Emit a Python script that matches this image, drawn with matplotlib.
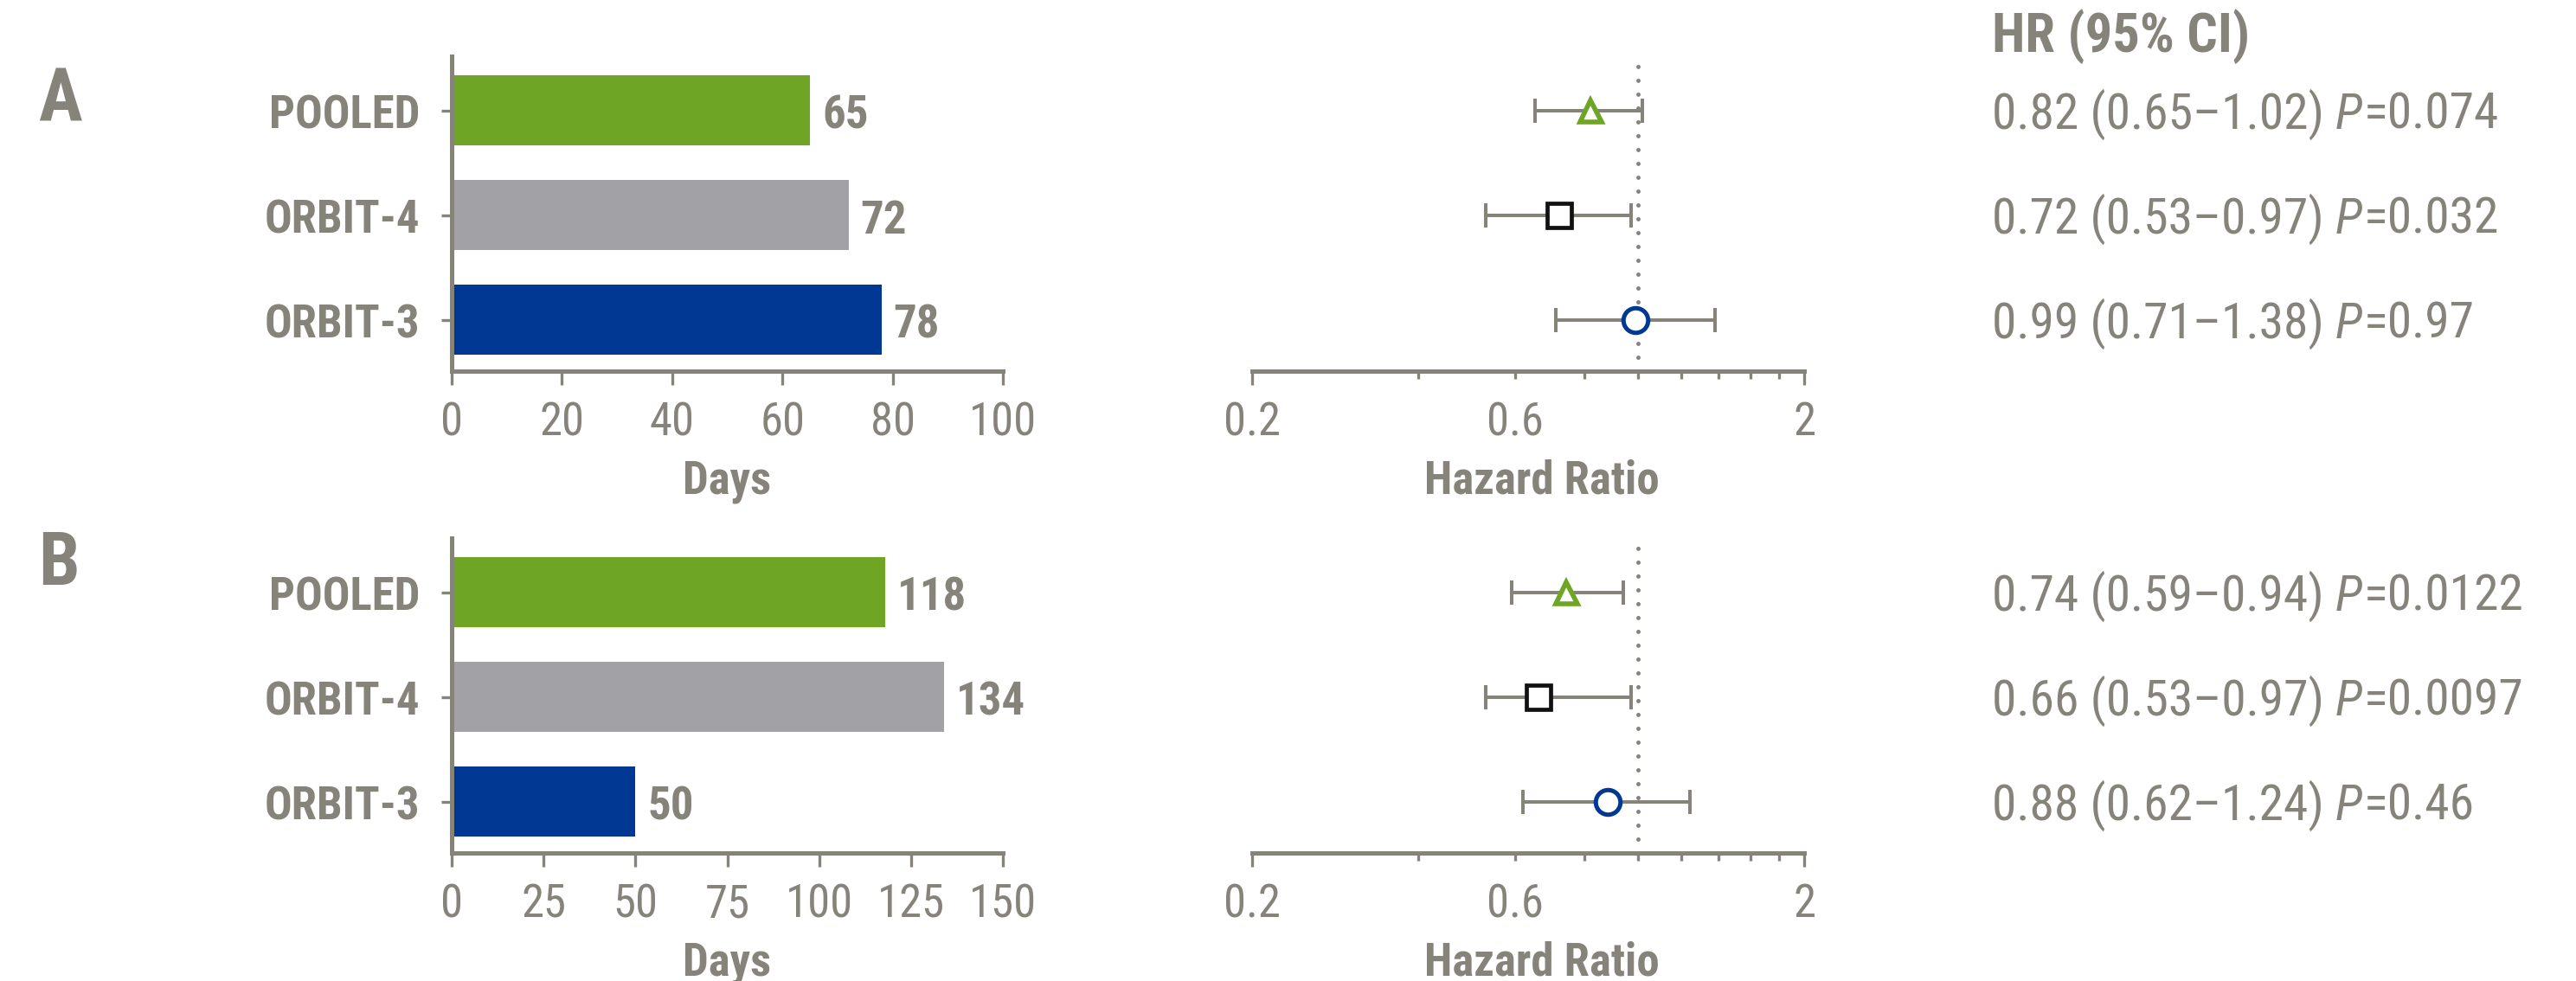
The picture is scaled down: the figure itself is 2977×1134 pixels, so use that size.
import matplotlib
matplotlib.use("Agg")
import matplotlib.pyplot as plt
from matplotlib import font_manager as fm
from matplotlib.ticker import FixedLocator, FixedFormatter, FuncFormatter
from matplotlib.transforms import blended_transform_factory

available = {f.name for f in fm.fontManager.ttflist}
FONT = next((f for f in ["Roboto Condensed", "Liberation Sans Narrow", "Liberation Sans"]
             if f in available), "DejaVu Sans")

# prefer the static cuts of the condensed family over its variable-axis files
static_entries = [f for f in fm.fontManager.ttflist
                  if f.name == FONT and "[" not in f.fname]
if static_entries:
    fm.fontManager.ttflist = [f for f in fm.fontManager.ttflist
                              if not (f.name == FONT and "[" in f.fname)]

plt.rcParams["font.family"] = [FONT, "DejaVu Sans"]

GRAY = "#86837A"

# ---- data -------------------------------------------------------------
studies = ["POOLED", "ORBIT-4", "ORBIT-3"]
bar_colors = ["#6FA524", "#A2A1A6", "#003893"]
marker_shapes = ["^", "s", "o"]
marker_edges = ["#6FA524", "#111111", "#003893"]
marker_sizes = [18, 20.5, 20.5]
marker_edge_widths = [4.0, 3.4, 3.6]

days_a = [65, 72, 78]
days_b = [118, 134, 50]
days_ticks_a = [0, 20, 40, 60, 80, 100]
days_ticks_b = [0, 25, 50, 75, 100, 125, 150]

hr_a = [0.82, 0.72, 0.99]
ci_low_a = [0.65, 0.53, 0.71]
ci_high_a = [1.02, 0.97, 1.38]
p_a = ["0.074", "0.032", "0.97"]

hr_b = [0.74, 0.66, 0.88]
ci_low_b = [0.59, 0.53, 0.62]
ci_high_b = [0.94, 0.97, 1.24]
p_b = ["0.0122", "0.0097", "0.46"]

hr_major_ticks = [0.2, 2]
hr_major_labels = ["0.2", "2"]
hr_minor_ticks = [0.4, 0.6, 0.8, 1.0, 1.2, 1.4, 1.6, 1.8]
hr_labelled_minor = [0.6]
hr_reference = 1.0

# ---- layout (pixel geometry of the canvas) ----------------------------
W, H = 2977, 1134
fig = plt.figure(figsize=(W / 100, H / 100), dpi=100)
fig.patch.set_facecolor("white")
renderer = fig.canvas.get_renderer()


def fx(px):
    return px / W


def fy(px):
    return 1 - px / H


AX_H = 364
BAR_L, BAR_W = 522, 637
FOR_L, FOR_W = 1447, 638
TEXT_X = 2302

panel_specs = [
    ("A", 65, days_a, days_ticks_a, hr_a, ci_low_a, ci_high_a, p_a, 140),
    ("B", 622, days_b, days_ticks_b, hr_b, ci_low_b, ci_high_b, p_b, 676),
]

TICK_FS = 38
ROW_FS = 41.5
SPINE_LW = 3.6
TICK_W = 2.4

for letter, top, days, dticks, hr, lo, hi, pv, letter_base in panel_specs:
    ypos = list(range(len(studies)))

    # -- bar chart of days --
    ax = fig.add_axes([fx(BAR_L), fy(top + AX_H), BAR_W / W, AX_H / H])
    ax.barh(ypos, days, height=0.67, color=bar_colors, zorder=2)
    ax.set_ylim(2.49, -0.52)
    ax.set_xlim(dticks[0], dticks[-1])
    for s in ["top", "right"]:
        ax.spines[s].set_visible(False)
    for s in ["left", "bottom"]:
        ax.spines[s].set_linewidth(SPINE_LW)
        ax.spines[s].set_color(GRAY)
    ax.set_xticks(dticks)
    ax.set_yticks(ypos)
    ax.set_yticklabels([])
    ax.tick_params(axis="x", length=11.5, width=TICK_W, color=GRAY,
                   labelcolor=GRAY, labelsize=TICK_FS, pad=13)
    ax.tick_params(axis="y", length=8.6, width=TICK_W, color=GRAY)
    ax.set_xlabel("Days", fontsize=TICK_FS, fontweight="bold", color=GRAY,
                  labelpad=12)
    for i, (name, v) in enumerate(zip(studies, days)):
        ax.annotate(name, xy=(0, i), xycoords=ax.get_yaxis_transform(),
                    xytext=(-26.6, -15), textcoords="offset points",
                    ha="right", va="baseline", fontsize=TICK_FS,
                    fontweight="bold", color=GRAY, annotation_clip=False)
        ax.annotate(str(v), xy=(v, i), xytext=(10, -15),
                    textcoords="offset points", ha="left", va="baseline",
                    fontsize=TICK_FS, fontweight="bold", color=GRAY,
                    annotation_clip=False)

    # -- forest plot of hazard ratios --
    fa = fig.add_axes([fx(FOR_L), fy(top + AX_H), FOR_W / W, AX_H / H])
    fa.set_xscale("log")
    fa.set_xlim(hr_major_ticks[0], hr_major_ticks[-1])
    fa.set_ylim(2.49, -0.52)
    for s in ["top", "right", "left"]:
        fa.spines[s].set_visible(False)
    fa.spines["bottom"].set_linewidth(SPINE_LW)
    fa.spines["bottom"].set_color(GRAY)
    fa.set_yticks([])
    fa.axvline(hr_reference, color=GRAY, lw=3.6, ls=(0, (0.001, 3.2)),
               dash_capstyle="round", zorder=1)
    for i in ypos:
        fa.errorbar(hr[i], i, xerr=[[hr[i] - lo[i]], [hi[i] - hr[i]]],
                    fmt="none", ecolor=GRAY, elinewidth=2.9, capsize=10,
                    capthick=2.9, zorder=2)
        fa.plot(hr[i], i, marker=marker_shapes[i], ms=marker_sizes[i],
                mew=marker_edge_widths[i], mec=marker_edges[i], mfc="white",
                ls="none", zorder=3)
    fa.xaxis.set_major_locator(FixedLocator(hr_major_ticks))
    fa.xaxis.set_major_formatter(FixedFormatter(hr_major_labels))
    fa.xaxis.set_minor_locator(FixedLocator(hr_minor_ticks))
    fa.xaxis.set_minor_formatter(FuncFormatter(
        lambda v, _: f"{v:g}" if any(abs(v - m) < 1e-9 for m in hr_labelled_minor) else ""))
    fa.tick_params(axis="x", which="major", length=11.5, width=TICK_W,
                   color=GRAY, labelcolor=GRAY, labelsize=TICK_FS, pad=13)
    fa.tick_params(axis="x", which="minor", length=6.5, width=TICK_W,
                   color=GRAY, labelcolor=GRAY, labelsize=TICK_FS, pad=18)
    fa.set_xlabel("Hazard Ratio", fontsize=TICK_FS, fontweight="bold",
                  color=GRAY, labelpad=12)
    fa.xaxis.label.set_x(0.525)

    # -- HR (95% CI) and P value column: regular text, italic P, regular --
    col = blended_transform_factory(fig.transFigure, fa.transData)
    for i in ypos:
        pieces = [
            (f"{hr[i]:.2f} ({lo[i]:.2f}\u2013{hi[i]:.2f})", "normal", 13),
            ("P", "italic", 2),
            (f"={pv[i]}", "normal", 0),
        ]
        dx = 0.0
        for s, style, gap in pieces:
            t = fa.annotate(s, xy=(fx(TEXT_X), i), xycoords=col,
                            xytext=(dx, -21), textcoords="offset pixels",
                            ha="left", va="baseline", fontsize=ROW_FS,
                            fontstyle=style, color=GRAY,
                            annotation_clip=False)
            dx += t.get_window_extent(renderer).width + gap

    fig.text(fx(44), fy(letter_base), letter, fontsize=61,
             fontweight="bold", color=GRAY, ha="left", va="baseline")

fig.text(fx(TEXT_X), fy(60), "HR (95% CI)", fontsize=45, fontweight="bold",
         color=GRAY, ha="left", va="baseline")

fig.savefig("out.png", dpi=100, facecolor="white")
